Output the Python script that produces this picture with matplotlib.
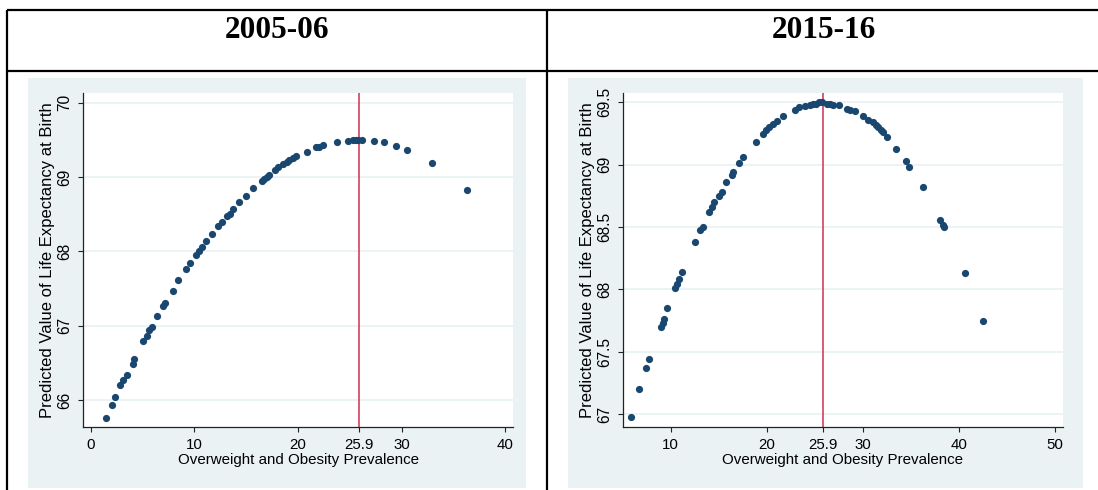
import matplotlib
matplotlib.use("Agg")
import matplotlib.pyplot as plt
from matplotlib.lines import Line2D
from matplotlib.patches import Rectangle

# ---- data -------------------------------------------------------------
periods = ["2005-06", "2015-16"]
turning_point = 25.9

prev_0506 = [1.45, 2.0, 2.32, 2.8, 3.06, 3.45, 4.03, 4.19, 5.06, 5.38, 5.64,
             5.86, 6.41, 6.92, 7.15, 7.89, 8.44, 9.18, 9.57, 10.14, 10.4,
             10.69, 11.11, 11.66, 12.24, 12.62, 13.11, 13.4, 13.69, 14.33,
             14.98, 15.62, 16.49, 16.75, 16.97, 17.2, 17.78, 18.1, 18.58,
             18.9, 19.16, 19.5, 19.81, 20.9, 21.74, 22.0, 22.38, 23.74, 24.86,
             25.3, 25.6, 25.83, 26.2, 27.34, 28.34, 29.47, 30.5, 32.9, 36.36]
le_0506 = [65.76, 65.93, 66.04, 66.2, 66.27, 66.34, 66.49, 66.55, 66.8, 66.87,
           66.94, 66.99, 67.13, 67.26, 67.31, 67.47, 67.62, 67.77, 67.85,
           67.95, 68.0, 68.06, 68.14, 68.23, 68.34, 68.4, 68.47, 68.51, 68.57,
           68.66, 68.75, 68.85, 68.95, 68.98, 69.0, 69.03, 69.1, 69.13, 69.18,
           69.2, 69.23, 69.25, 69.28, 69.34, 69.4, 69.41, 69.43, 69.47, 69.49,
           69.5, 69.5, 69.5, 69.5, 69.49, 69.47, 69.42, 69.36, 69.19, 68.82]

prev_1516 = [5.83, 6.74, 7.43, 7.74, 8.96, 9.17, 9.31, 9.65, 10.45, 10.63,
             10.87, 11.22, 12.53, 13.06, 13.33, 14.03, 14.27, 14.51, 15.07,
             15.31, 15.73, 16.42, 16.53, 17.12, 17.57, 18.85, 19.58, 19.93,
             20.28, 20.69, 21.11, 21.67, 22.95, 23.4, 23.99, 24.51, 24.8, 25.14,
             25.45, 25.73, 26.25, 26.6, 26.94, 27.57, 28.33, 28.7, 29.2, 30.07,
             30.59, 31.11, 31.4, 31.63, 31.9, 32.15, 32.5, 33.47, 34.51, 34.86,
             36.25, 38.06, 38.33, 38.47, 40.66, 42.5]
le_1516 = [66.98, 67.2, 67.37, 67.44, 67.7, 67.73, 67.76, 67.85, 68.01, 68.04,
           68.08, 68.14, 68.38, 68.48, 68.5, 68.62, 68.66, 68.7, 68.75, 68.78,
           68.86, 68.92, 68.94, 69.01, 69.06, 69.18, 69.25, 69.28, 69.3, 69.33,
           69.35, 69.39, 69.44, 69.46, 69.47, 69.48, 69.49, 69.49, 69.5, 69.5,
           69.49, 69.49, 69.48, 69.48, 69.45, 69.44, 69.43, 69.39, 69.36,
           69.34, 69.32, 69.3, 69.28, 69.26, 69.22, 69.13, 69.03, 68.98, 68.82,
           68.56, 68.52, 68.5, 68.13, 67.75]

xticks_0506 = [0, 10, 20, 25.9, 30, 40]
xticks_1516 = [10, 20, 25.9, 30, 40, 50]
yticks_0506 = [66, 67, 68, 69, 70]
yticks_1516 = [67, 67.5, 68, 68.5, 69, 69.5]

x_title = "Overweight and Obesity Prevalence"
y_title = "Predicted Value of Life Expectancy at Birth"

# ---- styling ----------------------------------------------------------
W, H = 1098, 490
NAVY = "#1a476f"
PANEL = "#eaf2f3"
RED = "#cf2f52"
plt.rcParams["font.family"] = ["Liberation Sans", "DejaVu Sans"]

fig = plt.figure(figsize=(W / 100, H / 100), dpi=100)
fig.patch.set_facecolor("white")


def fx(px):
    return px / W


def fy(py):
    return 1 - py / H


# table frame
tbl = dict(color="black", lw=1.6, solid_capstyle="butt")
fig.add_artist(Line2D([fx(6.5), 1.0], [fy(10), fy(10)], **tbl))
fig.add_artist(Line2D([fx(6.5), 1.0], [fy(71.5), fy(71.5)], **tbl))
fig.add_artist(Line2D([fx(7.3), fx(7.3)], [fy(10), 0], **tbl))
fig.add_artist(Line2D([fx(546.7), fx(546.7)], [fy(10), 0], **tbl))

# header cells
for label, cx in zip(periods, [277, 824]):
    fig.text(fx(cx), fy(31), label, ha="center", va="center",
             family="Liberation Serif", weight="bold", fontsize=22.5)

# graph-region panels
for x0, x1 in [(28, 526), (568, 1083)]:
    fig.add_artist(Rectangle((fx(x0), fy(488)), fx(x1 - x0), (488 - 78) / H,
                             facecolor=PANEL, edgecolor="none", zorder=0))


def make_panel(rect_px, xs, ys, xlim, ylim, xticks, yticks, ylabels,
               ytitle_px, xtitle_py):
    x0, x1, y0, y1 = rect_px
    ax = fig.add_axes([fx(x0), fy(y1), fx(x1 - x0), (y1 - y0) / H])
    ax.set_facecolor("white")
    ax.set_xlim(*xlim)
    ax.set_ylim(*ylim)
    for s in ("top", "right"):
        ax.spines[s].set_visible(False)
    for s in ("left", "bottom"):
        ax.spines[s].set_color("#222222")
        ax.spines[s].set_linewidth(0.9)
    ax.set_yticks(yticks)
    ax.set_yticklabels(ylabels, rotation=90, va="center")
    ax.set_xticks(xticks)
    ax.set_xticklabels([f"{t:g}" for t in xticks])
    ax.tick_params(axis="both", direction="out", length=3.6, width=0.8,
                   color="#222222")
    ax.tick_params(axis="y", labelsize=11.2, pad=4.5)
    ax.tick_params(axis="x", labelsize=10.8, pad=4.5)
    ax.grid(axis="y", color=PANEL, lw=1.3)
    ax.set_axisbelow(True)
    ax.axvline(turning_point, color=RED, lw=1.1, zorder=2)
    ax.scatter(xs, ys, s=27, color=NAVY, linewidths=0, zorder=3)

    ax.set_xlabel(x_title, fontsize=10.9)
    ax.xaxis.set_label_coords(0.5, (y1 - xtitle_py) / (y1 - y0))
    ax.xaxis.label.set_va("center")
    ax.set_ylabel(y_title, fontsize=12)
    ax.yaxis.set_label_coords((ytitle_px - x0) / (x1 - x0), 0.5)
    ax.yaxis.label.set_va("center")
    return ax


make_panel((83.3, 513, 93, 427), prev_0506, le_0506, (-0.74, 40.77),
           (65.64, 70.13), xticks_0506, yticks_0506,
           [f"{t:g}" for t in yticks_0506], 47.5, 460)
make_panel((623.3, 1062.7, 93, 426.7), prev_1516, le_1516, (5.07, 50.83),
           (66.9, 69.575), xticks_1516, yticks_1516,
           [f"{t:g}" for t in yticks_1516], 587.5, 460)

fig.savefig("out.png", dpi=100, facecolor="white")
